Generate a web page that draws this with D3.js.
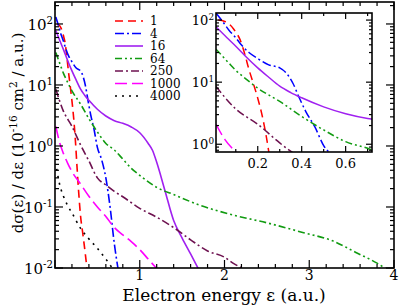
<!DOCTYPE html>
<html><head><meta charset="utf-8">
<script src="https://cdn.jsdelivr.net/npm/d3@7"></script>
<style>
body{margin:0;background:#fff}
svg{display:block}
svg text{font-family:"DejaVu Serif",serif !important}
</style>
</head><body>
<svg id="c" width="399" height="306"></svg>
<script>
// ---- data ----
const seriesNames = ["1","4","16","64","250","1000","4000"];
const energy1 = [0.02,0.05,0.07,0.09,0.1,0.12,0.14,0.16,0.18,0.2,0.22,0.24,0.26,0.28,0.3,0.33,0.36,0.38];
const sigma1  = [100,95,86,72,64,48,29,16,9.5,5.5,2.9,1.27,0.45,0.17,0.075,0.035,0.016,0.009];
const energy4 = [0.01,0.04,0.07,0.1,0.12,0.16,0.2,0.25,0.3,0.33,0.36,0.39,0.42,0.46,0.5,0.55,0.6,0.65,0.7,0.745];
const sigma4  = [130,95,68,52,42,30,24,19,17,14,9.6,5.5,3.3,1.9,0.95,0.6,0.3,0.1,0.025,0.0095];
const energy16 = [0.01,0.06,0.1,0.15,0.2,0.25,0.3,0.35,0.4,0.5,0.6,0.7,0.8,0.9,1.0,1.1,1.15,1.2,1.3,1.4,1.5,1.6,1.69];
const sigma16  = [78,52,38,25,17,12,8.6,6.8,5.6,4.0,3.1,2.6,2.35,2.05,1.65,1.1,0.85,0.54,0.18,0.06,0.031,0.017,0.0098];
const energy64 = [0.01,0.07,0.1,0.15,0.2,0.3,0.4,0.5,0.6,0.7,0.8,0.9,1.0,1.2,1.4,1.7,2.1,2.5,2.9,3.3,3.55,3.8,3.9];
const sigma64  = [34,20,15.5,11,8,4.9,2.8,1.7,1.1,0.86,0.61,0.43,0.33,0.21,0.16,0.108,0.074,0.055,0.039,0.027,0.018,0.012,0.0098];
const energy250 = [0.01,0.1,0.2,0.3,0.4,0.5,0.6,0.7,0.8,1.0,1.2,1.4,1.6,1.8,2.0,2.1,2.22];
const sigma250  = [8.5,3.7,2.1,1.05,0.57,0.3,0.23,0.18,0.147,0.095,0.068,0.046,0.029,0.019,0.015,0.012,0.0098];
const energy1000 = [0.01,0.05,0.1,0.15,0.2,0.3,0.4,0.5,0.6,0.7,0.8,0.9,1.0,1.1,1.2];
const sigma1000  = [2.1,1.2,0.75,0.52,0.38,0.24,0.15,0.1,0.07,0.046,0.035,0.027,0.02,0.014,0.0098];
const energy4000 = [0.02,0.05,0.1,0.15,0.2,0.3,0.4,0.5,0.6,0.68];
const sigma4000  = [0.42,0.25,0.15,0.105,0.08,0.045,0.03,0.021,0.014,0.0098];
const xTickLabels = ["1","2","3","4"];
const yTickExps = [-2,-1,0,1,2];
const insetXTickLabels = ["0.2","0.4","0.6"];
const insetYTickExps = [0,1,2];

// ---- styles ----
const colors = ["#ff0000","#0000ff","#a020f0","#119b11","#6e1250","#ff00ff","#000000"];
const dashes = ["8,5","9,3,2,3","none","7,3,2,3,2,3","8,3,2,3","12,5","2,5"];
const energies=[energy1,energy4,energy16,energy64,energy250,energy1000,energy4000];
const sigmas=[sigma1,sigma4,sigma16,sigma64,sigma250,sigma1000,sigma4000];
const series = seriesNames.map((n,i)=>({name:n,color:colors[i],dash:dashes[i],
  pts:energies[i].map((e,j)=>[e,sigmas[i][j]])}));

const svg = d3.select("#c");
const M = {l:55,r:394,t:2,b:268};
const x = d3.scaleLinear().domain([0,4]).range([M.l,M.r]);
const y = d3.scaleLog().domain([0.01,Math.pow(10,2.36)]).range([M.b,M.t]);

const defs = svg.append("defs");
defs.append("clipPath").attr("id","mainclip").append("rect")
  .attr("x",M.l).attr("y",M.t).attr("width",M.r-M.l).attr("height",M.b-M.t);

function drawCurves(g, xs, ys, clip, w){
  const line = d3.line().x(d=>xs(d[0])).y(d=>ys(d[1])).curve(d3.curveMonotoneX);
  g.append("g").attr("clip-path",`url(#${clip})`)
   .selectAll("path").data(series).join("path")
   .attr("d",d=>line(d.pts)).attr("fill","none")
   .attr("stroke",d=>d.color).attr("stroke-width",w)
   .attr("stroke-dasharray",d=>d.dash==="none"?null:d.dash);
}
drawCurves(svg, x, y, "mainclip", 1.6);

function logMinor(dom){
  const out=[];
  const lo=Math.floor(Math.log10(dom[0])), hi=Math.ceil(Math.log10(dom[1]));
  for(let e=lo;e<=hi;e++) for(let k=1;k<10;k++){const v=k*Math.pow(10,e); if(v>=dom[0]*0.999&&v<=dom[1]*1.001) out.push({v,major:k===1});}
  return out;
}

function frame(g, xs, ys, xMaj, xMin, yDom, L, R, T, B, majLen, minLen){
  const tg=g.append("g").attr("stroke","#000").attr("stroke-width",1.2);
  xMaj.forEach(v=>{const px=xs(v);
    tg.append("line").attr("x1",px).attr("x2",px).attr("y1",B).attr("y2",B-majLen);
    tg.append("line").attr("x1",px).attr("x2",px).attr("y1",T).attr("y2",T+majLen);});
  xMin.forEach(v=>{const px=xs(v);
    tg.append("line").attr("x1",px).attr("x2",px).attr("y1",B).attr("y2",B-minLen);
    tg.append("line").attr("x1",px).attr("x2",px).attr("y1",T).attr("y2",T+minLen);});
  logMinor(yDom).forEach(t=>{const py=ys(t.v), len=t.major?majLen:minLen;
    tg.append("line").attr("x1",L).attr("x2",L+len).attr("y1",py).attr("y2",py);
    tg.append("line").attr("x1",R).attr("x2",R-len).attr("y1",py).attr("y2",py);});
  g.append("rect").attr("x",L).attr("y",T).attr("width",R-L).attr("height",B-T)
    .attr("fill","none").attr("stroke","#000").attr("stroke-width",1.6);
}

const xMajMain=[0,1,2,3,4];
const xMinMain=d3.range(0,4.001,0.2).filter(v=>Math.abs(v-Math.round(v))>1e-6);
frame(svg, x, y, xMajMain, xMinMain, y.domain(), M.l, M.r, M.t, M.b, 8, 4);

// main tick labels
xTickLabels.forEach(s=>{
  svg.append("text").attr("x",x(+s)).attr("y",280).attr("text-anchor","middle")
    .attr("font-size",14).text(s);
});
function powLabel(g, px, py, exp, fs){
  const t=g.append("text").attr("x",px).attr("y",py).attr("text-anchor","end").attr("font-size",fs);
  t.append("tspan").text("10");
  t.append("tspan").attr("dy",-fs*0.42).attr("font-size",fs*0.68).text(exp<0?"-"+(-exp):String(exp));
}
yTickExps.forEach(e=>powLabel(svg, 53, y(Math.pow(10,e))+6, e, 15));

// axis titles
svg.append("text").attr("x",224).attr("y",301).attr("text-anchor","middle")
  .attr("font-size",17).text("Electron energy ε (a.u.)");
const yl = svg.append("text").attr("transform","translate(23,133) rotate(-90)")
  .attr("text-anchor","middle").attr("font-size",15);
yl.append("tspan").text("dσ(ε) / dε  (10");
yl.append("tspan").attr("dy",-6).attr("font-size",10.5).text("-16");
yl.append("tspan").attr("dy",6).text(" cm");
yl.append("tspan").attr("dy",-6).attr("font-size",10.5).text("2");
yl.append("tspan").attr("dy",6).text(" / a.u.)");

// legend
const lg = svg.append("g");
series.forEach((s,i)=>{
  const ly = 21 + i*12.5;
  lg.append("line").attr("x1",115).attr("x2",143).attr("y1",ly).attr("y2",ly)
    .attr("stroke",s.color).attr("stroke-width",1.6)
    .attr("stroke-dasharray",s.dash==="none"?null:s.dash);
  lg.append("text").attr("x",150).attr("y",ly+4).attr("font-size",12).text(s.name);
});

// inset
const I = {l:216,r:372,t:13,b:152};
const xi = d3.scaleLinear().domain([0.01,0.72]).range([I.l,I.r]);
const yi = d3.scaleLog().domain([0.75,130]).range([I.b,I.t]);
defs.append("clipPath").attr("id","insclip").append("rect")
  .attr("x",I.l).attr("y",I.t).attr("width",I.r-I.l).attr("height",I.b-I.t);
svg.append("rect").attr("x",I.l).attr("y",I.t).attr("width",I.r-I.l).attr("height",I.b-I.t).attr("fill","#fff");
drawCurves(svg, xi, yi, "insclip", 1.5);
frame(svg, xi, yi, [0.2,0.4,0.6], [0.1,0.3,0.5,0.7], yi.domain(), I.l, I.r, I.t, I.b, 6, 3);
insetXTickLabels.forEach(s=>{
  svg.append("text").attr("x",xi(+s)).attr("y",168).attr("text-anchor","middle")
    .attr("font-size",13).text(s);
});
insetYTickExps.forEach(e=>powLabel(svg, 214, yi(Math.pow(10,e))+5, e, 13));
</script>
</body></html>
